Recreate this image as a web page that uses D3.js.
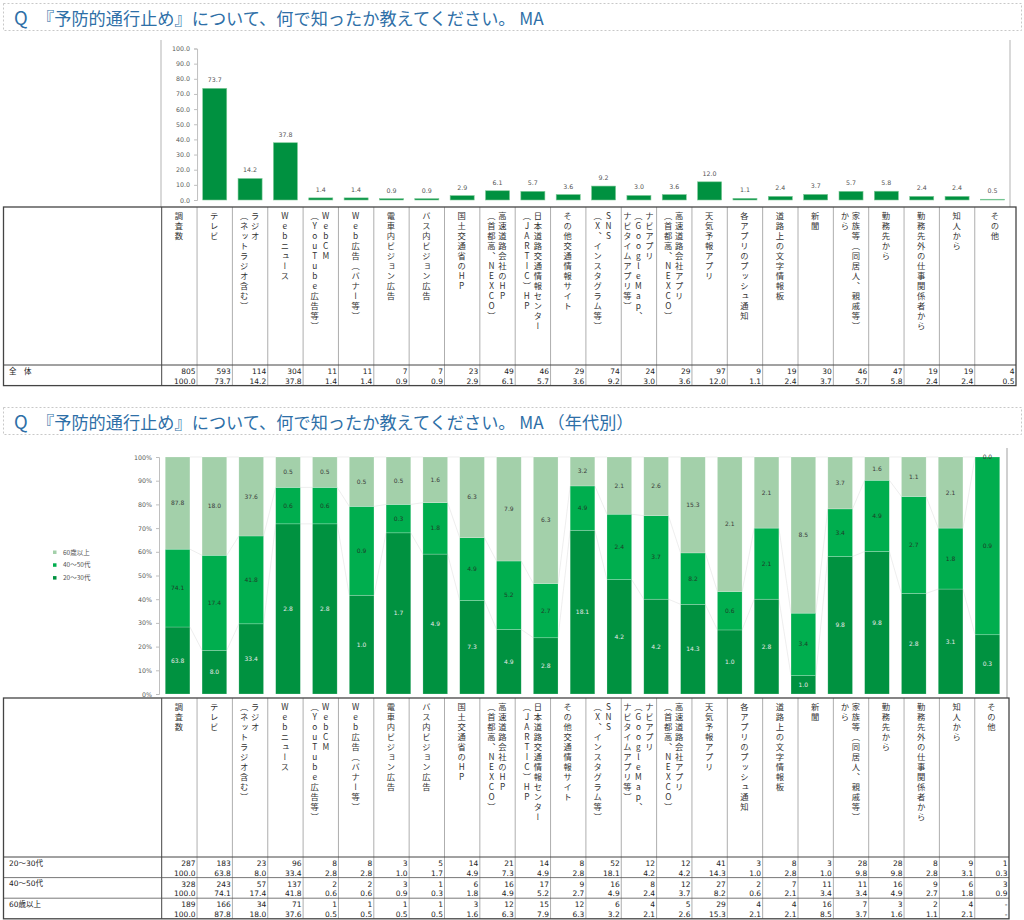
<!DOCTYPE html>
<html>
<head>
<meta charset="utf-8">
<title>予防的通行止め</title>
<script src="https://cdn.jsdelivr.net/npm/d3@7"></script>
<style>
  body { margin: 0; background: #fff; }
  svg { display: block; }
  .title { font-family: "Noto Sans CJK JP", "Noto Sans", sans-serif; fill: #2e6fa7; }
  .cell { font-family: "DejaVu Sans", "Noto Sans CJK JP", sans-serif; font-size: 7.5px; fill: #222; }
  .vlab { font-family: "Noto Sans CJK JP", sans-serif; font-size: 8.3px; fill: #333;
          writing-mode: vertical-rl; text-orientation: upright; letter-spacing: 1.7px; }
  .axis text { font-family: "DejaVu Sans", sans-serif; font-size: 6.3px; fill: #595959; }
  .axis path, .axis line { stroke: #bfbfbf; }
</style>
</head>
<body>
<div id="chart"></div>
<script>
// table column headers (each label split into vertical lines, first line is drawn rightmost)
var headers = [
  ["調査数"], ["テレビ"], ["ラジオ", "（ネットラジオ含む）"], ["Webニュース"],
  ["WebCM", "（YouTube広告等）"], ["Web広告（バナー等）"], ["電車内ビジョン広告"],
  ["バス内ビジョン広告"], ["国土交通省のHP"], ["高速道路会社のHP", "（首都高、NEXCO）"],
  ["日本道路交通情報センター", "（JARTIC）HP"], ["その他交通情報サイト"],
  ["SNS", "（X、インスタグラム等）"], ["ナビアプリ", "（GoogleMap、", "ナビタイムアプリ等）"],
  ["高速道路会社アプリ", "（首都高、NEXCO）"], ["天気予報アプリ"], ["各アプリのプッシュ通知"],
  ["道路上の文字情報板"], ["新聞"], ["家族等（同居人、親戚等）", "から"], ["勤務先から"],
  ["勤務先外の仕事関係者から"], ["知人から"], ["その他"]
];

var totalN   = [805, 593, 114, 304, 11, 11, 7, 7, 23, 49, 46, 29, 74, 24, 29, 97, 9, 19, 30, 46, 47, 19, 19, 4];
var totalPct = [100.0, 73.7, 14.2, 37.8, 1.4, 1.4, 0.9, 0.9, 2.9, 6.1, 5.7, 3.6, 9.2, 3.0, 3.6, 12.0, 1.1, 2.4, 3.7, 5.7, 5.8, 2.4, 2.4, 0.5];

var age20N   = [287, 183, 23, 96, 8, 8, 3, 5, 14, 21, 14, 8, 52, 12, 12, 41, 3, 8, 3, 28, 28, 8, 9, 1];
var age20Pct = [100.0, 63.8, 8.0, 33.4, 2.8, 2.8, 1.0, 1.7, 4.9, 7.3, 4.9, 2.8, 18.1, 4.2, 4.2, 14.3, 1.0, 2.8, 1.0, 9.8, 9.8, 2.8, 3.1, 0.3];
var age40N   = [328, 243, 57, 137, 2, 2, 3, 1, 6, 16, 17, 9, 16, 8, 12, 27, 2, 7, 11, 11, 16, 9, 6, 3];
var age40Pct = [100.0, 74.1, 17.4, 41.8, 0.6, 0.6, 0.9, 0.3, 1.8, 4.9, 5.2, 2.7, 4.9, 2.4, 3.7, 8.2, 0.6, 2.1, 3.4, 3.4, 4.9, 2.7, 1.8, 0.9];
var age60N   = [189, 166, 34, 71, 1, 1, 1, 1, 3, 12, 15, 12, 6, 4, 5, 29, 4, 4, 16, 7, 3, 2, 4, null];
var age60Pct = [100.0, 87.8, 18.0, 37.6, 0.5, 0.5, 0.5, 0.5, 1.6, 6.3, 7.9, 6.3, 3.2, 2.1, 2.6, 15.3, 2.1, 2.1, 8.5, 3.7, 1.6, 1.1, 2.1, null];

var ageNames = ["20～30代", "40～50代", "60歳以上"];
var yTicksTop = [0, 10, 20, 30, 40, 50, 60, 70, 80, 90, 100];
var yTicksBottom = [0, 0.1, 0.2, 0.3, 0.4, 0.5, 0.6, 0.7, 0.8, 0.9, 1];

var W = 1024, H = 920;
var colX0 = 161.7, colStep = 35.35;
var ageColors = ["#009240", "#00ae4e", "#a3d0aa"];
var labelColors = ["#e8e8e8", "#1e3d28", "#3a3a3a"];

var svg = d3.select("#chart").append("svg").attr("width", W).attr("height", H);
svg.append("rect").attr("width", W).attr("height", H).attr("fill", "#fff");

var colX = function (i) { return colX0 + i * colStep; };
var f1 = d3.format(".1f");

function title(y0, extra) {
  svg.append("rect").attr("x", 3.5).attr("y", y0).attr("width", 1018).attr("height", 27)
    .attr("fill", "none").attr("stroke", "#c8c8c8").attr("stroke-dasharray", "2,2");
  svg.append("text").attr("class", "title").attr("x", 14).attr("y", y0 + 21.5)
    .attr("font-size", "18.5px").text("Q");
  svg.append("text").attr("class", "title").attr("x", 37).attr("y", y0 + 21.5)
    .attr("font-size", "17.2px")
    .text("『予防的通行止め』について、何で知ったか教えてください。 MA" + extra);
}

function table(top, headBottom, right, rows) {
  var g = svg.append("g");
  var rowH = 20.6;
  var bottom = headBottom + rows.length * rowH;
  // inner column lines
  for (var i = 1; i < 24; i++) {
    g.append("line").attr("x1", colX(i)).attr("x2", colX(i)).attr("y1", top).attr("y2", bottom)
      .attr("stroke", "#999").attr("stroke-width", 0.8);
  }
  g.append("line").attr("x1", colX(0)).attr("x2", colX(0)).attr("y1", top).attr("y2", bottom)
    .attr("stroke", "#444").attr("stroke-width", 1);
  g.append("line").attr("x1", 3).attr("x2", right).attr("y1", headBottom).attr("y2", headBottom)
    .attr("stroke", "#444").attr("stroke-width", 1);
  rows.forEach(function (r, k) {
    var y = headBottom + k * rowH;
    if (k > 0) g.append("line").attr("x1", 3).attr("x2", right).attr("y1", y).attr("y2", y)
      .attr("stroke", "#555").attr("stroke-width", 0.8);
    g.append("text").attr("class", "cell").attr("x", 9).attr("y", y + 8.5)
      .attr("font-family", "Noto Sans CJK JP").attr("font-size", "8px").text(r.name);
    r.n.forEach(function (v, i) {
      var xr = (i === 23 ? right : colX(i + 1)) - 1.5;
      g.append("text").attr("class", "cell").attr("x", xr).attr("y", y + 9)
        .attr("text-anchor", "end").text(v === null ? "-" : v);
      g.append("text").attr("class", "cell").attr("x", xr).attr("y", y + 18.8)
        .attr("text-anchor", "end").text(r.p[i] === null ? "-" : f1(r.p[i]));
    });
  });
  g.append("rect").attr("x", 3.5).attr("y", top).attr("width", right - 3.5).attr("height", bottom - top)
    .attr("fill", "none").attr("stroke", "#444").attr("stroke-width", 1.3);
  // vertical header labels
  headers.forEach(function (lines, i) {
    var cx = (colX(i) + (i === 23 ? right : colX(i + 1))) / 2 - 0.5;
    var n = lines.length, gap = 11;
    lines.forEach(function (s, j) {
      g.append("text").attr("class", "vlab")
        .attr("x", cx + (n - 1) / 2 * gap - j * gap).attr("y", top + 5)
        .text(s);
    });
  });
}

// ---------- section 1 : overall ----------
title(3.5, "");

svg.append("line").attr("x1", 161).attr("x2", 161).attr("y1", 40).attr("y2", 207)
  .attr("stroke", "#d9d9d9").attr("stroke-width", 2);
svg.append("line").attr("x1", 1010).attr("x2", 1010).attr("y1", 40).attr("y2", 207)
  .attr("stroke", "#d9d9d9").attr("stroke-width", 2);

var xTop = d3.scaleBand().domain(d3.range(1, 24)).range([colX(1), colX(24)])
  .paddingInner(0.32).paddingOuter(0.16);
var yTop = d3.scaleLinear().domain([0, 100]).range([200, 48.5]);

svg.append("g").attr("class", "axis").attr("transform", "translate(" + colX(1) + ",0)")
  .call(d3.axisLeft(yTop).tickValues(yTicksTop).tickFormat(f1).tickSize(3).tickPadding(4));

var topBars = d3.range(1, 24);
svg.selectAll(".tbar").data(topBars).enter().append("rect").attr("class", "tbar")
  .attr("x", function (i) { return xTop(i); })
  .attr("y", function (i) { return yTop(totalPct[i]); })
  .attr("width", xTop.bandwidth())
  .attr("height", function (i) { return yTop(0) - yTop(totalPct[i]); })
  .attr("fill", "#009140").attr("stroke", "#7fca98").attr("stroke-width", 0.6);
svg.selectAll(".tlab").data(topBars).enter().append("text").attr("class", "tlab")
  .attr("x", function (i) { return xTop(i) + xTop.bandwidth() / 2; })
  .attr("y", function (i) { return yTop(totalPct[i]) - 6; })
  .attr("text-anchor", "middle").attr("font-family", "DejaVu Sans").attr("font-size", "6.3px")
  .attr("fill", "#555").text(function (i) { return f1(totalPct[i]); });

table(207, 365, 1016, [{ name: "全　体", n: totalN, p: totalPct }]);

// ---------- section 2 : by age ----------
title(407.5, " （年代別）");

var cats = d3.range(1, 24);
var stackData = cats.map(function (i) {
  return { i: i, a20: age20Pct[i], a40: age40Pct[i], a60: age60Pct[i] === null ? 0 : age60Pct[i] };
});
var keys = ["a20", "a40", "a60"];
var series = d3.stack().keys(keys).offset(d3.stackOffsetExpand)(stackData);

var xB = d3.scaleBand().domain(cats).range([159, 1006]).paddingInner(0.33).paddingOuter(0.17);
var yB = d3.scaleLinear().domain([0, 1]).range([694, 457]);

svg.append("line").attr("x1", 1007).attr("x2", 1007).attr("y1", 448).attr("y2", 698)
  .attr("stroke", "#d0d0d0").attr("stroke-width", 2);

svg.append("g").attr("class", "axis").attr("transform", "translate(159,0)")
  .call(d3.axisLeft(yB).tickValues(yTicksBottom).tickFormat(d3.format(".0%")).tickSize(3).tickPadding(4));

// faint series lines between bars
series.forEach(function (s) {
  for (var k = 0; k < s.length - 1; k++) {
    var a = s[k], b = s[k + 1];
    svg.append("line")
      .attr("x1", xB(a.data.i) + xB.bandwidth()).attr("y1", yB(a[1]))
      .attr("x2", xB(b.data.i)).attr("y2", yB(b[1]))
      .attr("stroke", "#e6e6e6").attr("stroke-width", 0.7);
  }
});

series.forEach(function (s, si) {
  var g = svg.append("g");
  g.selectAll("rect").data(s).enter().append("rect")
    .attr("x", function (d) { return xB(d.data.i); })
    .attr("y", function (d) { return yB(d[1]); })
    .attr("width", xB.bandwidth())
    .attr("height", function (d) { return yB(d[0]) - yB(d[1]); })
    .attr("fill", ageColors[si]).attr("stroke", "rgba(255,255,255,0.35)").attr("stroke-width", 0.6);
  g.selectAll("text").data(s).enter().append("text")
    .attr("x", function (d) { return xB(d.data.i) + xB.bandwidth() / 2; })
    .attr("y", function (d) { return (yB(d[0]) + yB(d[1])) / 2 + 2; })
    .attr("text-anchor", "middle").attr("font-family", "DejaVu Sans").attr("font-size", "6px")
    .attr("fill", labelColors[si])
    .text(function (d) { return f1(d.data[keys[si]]); });
});

// legend
var legendItems = [2, 1, 0];
legendItems.forEach(function (si, k) {
  svg.append("rect").attr("x", 53).attr("y", 550.5 + k * 12.8).attr("width", 3.5).attr("height", 3.5)
    .attr("fill", ageColors[si]);
  svg.append("text").attr("x", 63).attr("y", 554.5 + k * 12.8)
    .attr("font-family", "Noto Sans CJK JP").attr("font-size", "6.5px").attr("fill", "#555")
    .text(ageNames[si]);
});

table(698, 857, 1009, [
  { name: ageNames[0], n: age20N, p: age20Pct },
  { name: ageNames[1], n: age40N, p: age40Pct },
  { name: ageNames[2], n: age60N, p: age60Pct }
]);
</script>
</body>
</html>
